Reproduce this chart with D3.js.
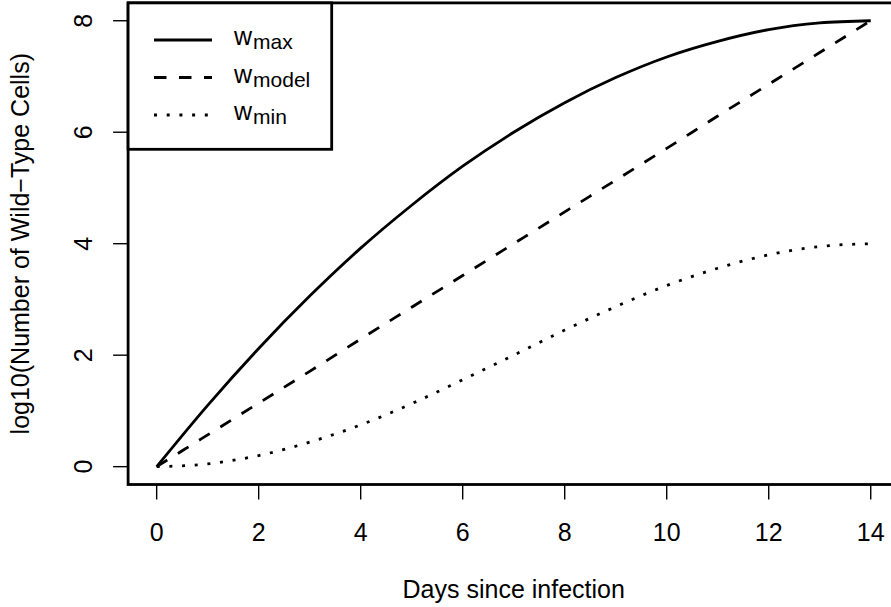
<!DOCTYPE html>
<html>
<head>
<meta charset="utf-8">
<script src="https://cdn.jsdelivr.net/npm/d3@7"></script>
<style>
  body { margin: 0; background: #fff; }
  text { font-family: "Liberation Sans", Arial, sans-serif; fill: #000; }
</style>
</head>
<body>
<script>
// values
const days = [0, 1, 2, 3, 4, 5, 6, 7, 8, 9, 10, 11, 12, 13, 14];
const wMax = [0, 1.10, 2.12, 3.06, 3.92, 4.69, 5.39, 6.00, 6.53, 6.98, 7.35, 7.63, 7.84, 7.96, 8.00];
const wModel = [0, 0.57, 1.14, 1.71, 2.29, 2.86, 3.43, 4.00, 4.57, 5.14, 5.71, 6.29, 6.86, 7.43, 8.00];
const wMin = [0, 0.05, 0.20, 0.44, 0.75, 1.13, 1.56, 2.00, 2.45, 2.87, 3.25, 3.56, 3.80, 3.95, 4.00];
const xTicks = [0, 2, 4, 6, 8, 10, 12, 14];
const yTicks = [0, 2, 4, 6, 8];
const seriesNames = ["max", "model", "min"];

const width = 891;
const height = 607;

const svg = d3.select("body")
    .append("svg")
    .attr("width", width)
    .attr("height", height);

// R style axes: data range padded by 4%
const x = d3.scaleLinear()
    .domain([-0.56, 14.56])
    .range([128.1, 899.3]);

const y = d3.scaleLinear()
    .domain([-0.32, 8.32])
    .range([484.5, 2.9]);

const styles = [
    { dash: null },
    { dash: "12.5,12.5" },
    { dash: "3,9.7" }
];

const series = [wMax, wModel, wMin];

const line = d3.line()
    .x((d, i) => x(days[i]))
    .y(d => y(d))
    .curve(d3.curveMonotoneX);

series.forEach((vals, k) => {
    svg.append("path")
        .datum(vals)
        .attr("d", line)
        .attr("fill", "none")
        .attr("stroke", "#000")
        .attr("stroke-width", 2.8)
        .attr("stroke-dasharray", styles[k].dash);
});

// x axis
const xAxis = svg.append("g");
xAxis.selectAll("line")
    .data(xTicks)
    .enter()
    .append("line")
    .attr("x1", d => x(d))
    .attr("x2", d => x(d))
    .attr("y1", y.range()[0])
    .attr("y2", y.range()[0] + 15)
    .attr("stroke", "#000")
    .attr("stroke-width", 1.4);
xAxis.selectAll("text")
    .data(xTicks)
    .enter()
    .append("text")
    .attr("x", d => x(d))
    .attr("y", 541)
    .attr("text-anchor", "middle")
    .style("font-size", "25px")
    .text(d => d);

// y axis
const yAxis = svg.append("g");
yAxis.selectAll("line")
    .data(yTicks)
    .enter()
    .append("line")
    .attr("x1", x.range()[0] - 15)
    .attr("x2", x.range()[0])
    .attr("y1", d => y(d))
    .attr("y2", d => y(d))
    .attr("stroke", "#000")
    .attr("stroke-width", 1.4);
yAxis.selectAll("text")
    .data(yTicks)
    .enter()
    .append("text")
    .attr("transform", d => `translate(92,${y(d)}) rotate(-90)`)
    .attr("text-anchor", "middle")
    .style("font-size", "25px")
    .text(d => d);

// box
svg.append("rect")
    .attr("x", x.range()[0])
    .attr("y", y.range()[1])
    .attr("width", x.range()[1] - x.range()[0])
    .attr("height", y.range()[0] - y.range()[1])
    .attr("fill", "none")
    .attr("stroke", "#000")
    .attr("stroke-width", 2.8);

// titles
svg.append("text")
    .attr("x", (x.range()[0] + x.range()[1]) / 2)
    .attr("y", 598)
    .attr("text-anchor", "middle")
    .style("font-size", "25px")
    .text("Days since infection");

svg.append("text")
    .attr("transform", `translate(29,${(y.range()[0] + y.range()[1]) / 2}) rotate(-90)`)
    .attr("text-anchor", "middle")
    .style("font-size", "25px")
    .text("log10(Number of Wild\u2212Type Cells)");

// legend
const legend = svg.append("g");
legend.append("rect")
    .attr("x", x.range()[0])
    .attr("y", y.range()[1])
    .attr("width", 331.7 - x.range()[0])
    .attr("height", 149.3 - y.range()[1])
    .attr("fill", "#fff")
    .attr("stroke", "#000")
    .attr("stroke-width", 2.8);

seriesNames.forEach((name, k) => {
    const ly = 40 + k * 37.5;
    legend.append("line")
        .attr("x1", 154)
        .attr("x2", 212)
        .attr("y1", ly)
        .attr("y2", ly)
        .attr("stroke", "#000")
        .attr("stroke-width", 2.8)
        .attr("stroke-dasharray", styles[k].dash);
    const t = legend.append("text")
        .attr("x", 234)
        .attr("y", ly + 5)
        .style("font-size", "25px");
    t.append("tspan").text("w");
    t.append("tspan")
        .attr("dy", 4)
        .attr("dx", 1)
        .style("font-size", "21px")
        .text(name);
});
</script>
</body>
</html>
